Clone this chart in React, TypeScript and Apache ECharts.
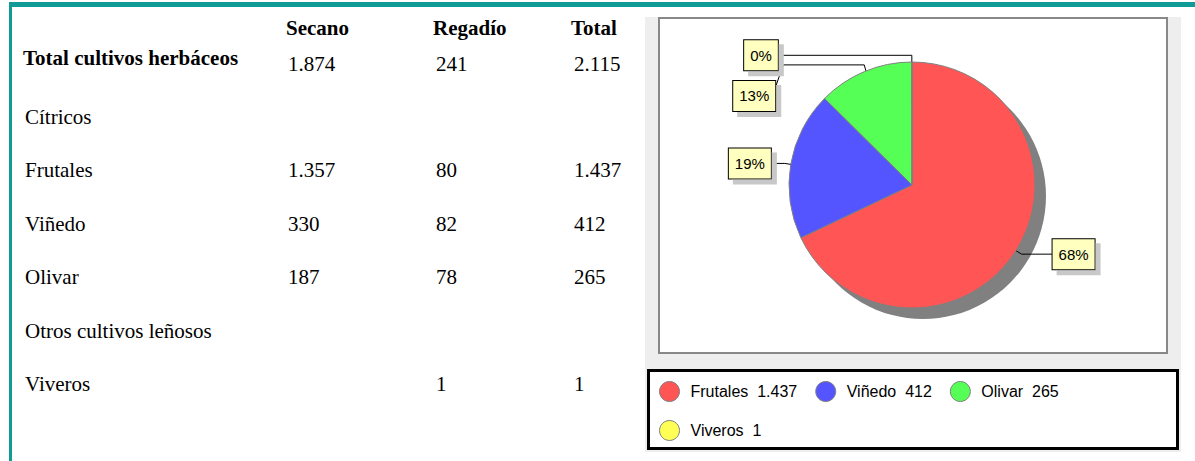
import React, { useEffect, useRef } from 'react';
import * as echarts from 'echarts';

// ---------- data ----------
const columnHeaders = ['Secano', 'Regadío', 'Total'];
const rowLabels = [
  'Total cultivos herbáceos',
  'Cítricos',
  'Frutales',
  'Viñedo',
  'Olivar',
  'Otros cultivos leñosos',
  'Viveros',
];
const secano: (number | null)[] = [1874, null, 1357, 330, 187, null, null];
const regadio: (number | null)[] = [241, null, 80, 82, 78, null, 1];
const totals: (number | null)[] = [2115, null, 1437, 412, 265, null, 1];

const pieCategories = ['Frutales', 'Viñedo', 'Olivar', 'Viveros'];
const pieValues = [1437, 412, 265, 1];
const pieColors = ['#ff5555', '#5555ff', '#55ff55', '#ffff55'];

// ---------- layout / style ----------
const W = 1195;
const H = 461;
const CX = 912;
const CY = 185;
const R = 123;
const TEAL = '#109b97';
const SERIF = '"Liberation Serif", "Times New Roman", serif';
const SANS = '"Liberation Sans", Arial, sans-serif';
const headerX = [286, 433, 571];
const valueX = [288, 436, 574];
const headerBaseline = 35;
const firstLabelBaseline = 65;
const firstValueBaseline = 71;
const rowBaseline0 = 124;
const rowStep = 53.4;

// guide line offsets relative to the anchor point inside each slice
const GUIDES: { pts: number[][]; align: string; bx: number; by: number }[] = [
  { pts: [[16, 10], [47, 10]], align: 'left', bx: 47, by: 10 },
  { pts: [[-18, -3], [-32, -3]], align: 'right', bx: -32, by: -3 },
  { pts: [[-5, -18], [-86, -18], [-94, 5]], align: 'right', bx: -94, by: 13 },
  { pts: [[0, -19], [-134, -19]], align: 'right', bx: -134, by: -19 },
];

const fmt = (n: number | null) =>
  n == null ? '' : String(n).replace(/\B(?=(\d{3})+(?!\d))/g, '.');

const pieTotal = pieValues.reduce((a, b) => a + b, 0);

function buildGraphic() {
  const els: any[] = [];
  // gray chart panel
  els.push({ type: 'rect', shape: { x: 645, y: 17, width: 536, height: 435 }, style: { fill: '#eeeeee' } });
  // white plot box
  els.push({
    type: 'rect',
    shape: { x: 659, y: 18, width: 508, height: 335 },
    style: { fill: '#ffffff', stroke: '#888888', lineWidth: 2 },
  });
  // legend box
  els.push({
    type: 'rect',
    shape: { x: 648.5, y: 370.5, width: 529, height: 78 },
    style: { fill: '#ffffff', stroke: '#000000', lineWidth: 3 },
  });
  // teal frame
  els.push({ type: 'rect', shape: { x: 9, y: 2, width: W - 9, height: 5 }, style: { fill: TEAL } });
  els.push({ type: 'rect', shape: { x: 9, y: 2, width: 3, height: H - 2 }, style: { fill: TEAL } });

  const mid = (baseline: number) => baseline - 7;
  // headers
  columnHeaders.forEach((h, i) => {
    els.push({
      type: 'text',
      x: headerX[i],
      y: mid(headerBaseline),
      style: { text: h, font: `bold 21px ${SERIF}`, fill: '#000', align: 'left', verticalAlign: 'middle' },
    });
  });
  const cols = [secano, regadio, totals];
  rowLabels.forEach((label, r) => {
    const lb = r === 0 ? firstLabelBaseline : rowBaseline0 + (r - 1) * rowStep;
    const vb = r === 0 ? firstValueBaseline : lb;
    els.push({
      type: 'text',
      x: r === 0 ? 23 : 25,
      y: mid(lb),
      style: {
        text: label,
        font: `${r === 0 ? 'bold ' : ''}21px ${SERIF}`,
        fill: '#000',
        align: 'left',
        verticalAlign: 'middle',
      },
    });
    cols.forEach((col, c) => {
      const v = col[r];
      if (v == null) return;
      els.push({
        type: 'text',
        x: valueX[c],
        y: mid(vb),
        style: { text: fmt(v), font: `21px ${SERIF}`, fill: '#000', align: 'left', verticalAlign: 'middle' },
      });
    });
  });
  return els;
}

export default function App() {
  const ref = useRef<HTMLDivElement>(null);
  useEffect(() => {
    const chart = echarts.init(ref.current!, null, { renderer: 'svg', width: W, height: H });
    const option: any = {
      animation: false,
      graphic: { elements: buildGraphic() },
      legend: {
        data: pieCategories,
        left: 659,
        top: 381,
        width: 450,
        padding: 0,
        orient: 'horizontal',
        icon: 'circle',
        itemWidth: 32,
        itemHeight: 20,
        itemGap: 18,
        selectedMode: false,
        itemStyle: { borderColor: '#808080', borderWidth: 1 },
        textStyle: { fontFamily: SANS, fontSize: 16, color: '#000', lineHeight: 19 },
        formatter: (name: string) => `${name}  ${fmt(pieValues[pieCategories.indexOf(name)])}`,
      },
      series: [
        {
          type: 'pie',
          name: 'sombra',
          silent: true,
          z: 1,
          center: [CX + 11, CY + 11],
          radius: R,
          data: [{ value: pieTotal, name: '__shadow__' }],
          itemStyle: { color: '#808080' },
          label: { show: false },
          labelLine: { show: false },
          emphasis: { disabled: true },
        },
        {
          type: 'pie',
          name: 'cultivos',
          z: 2,
          center: [CX, CY],
          radius: R,
          startAngle: 90,
          clockwise: true,
          avoidLabelOverlap: false,
          color: pieColors,
          data: pieCategories.map((name, i) => ({ name, value: pieValues[i] })),
          itemStyle: { borderColor: '#808080', borderWidth: 1 },
          emphasis: { disabled: true },
          label: {
            show: true,
            position: 'outside',
            formatter: (p: any) => `${Math.round((p.value / pieTotal) * 100)}%`,
            fontFamily: SANS,
            fontSize: 15,
            lineHeight: 16,
            color: '#000',
            backgroundColor: '#ffffc0',
            borderColor: '#000',
            borderWidth: 1,
            padding: [7, 6, 7, 6],
            shadowColor: '#c8c8c8',
            shadowOffsetX: 5,
            shadowOffsetY: 5,
            shadowBlur: 0,
          },
          labelLine: { show: true, length: 10, length2: 10, lineStyle: { color: '#000', width: 1 } },
          labelLayout: (params: any) => {
            const i = params.dataIndex;
            let before = 0;
            for (let j = 0; j < i; j++) before += pieValues[j];
            const ang = ((before + pieValues[i] / 2) / pieTotal) * Math.PI * 2;
            const ax = CX + 0.9 * R * Math.sin(ang);
            const ay = CY - 0.9 * R * Math.cos(ang);
            const g = GUIDES[i];
            return {
              x: ax + g.bx,
              y: ay + g.by,
              align: g.align,
              verticalAlign: 'middle',
              labelLinePoints: [[ax, ay], ...g.pts.map((p) => [ax + p[0], ay + p[1]])],
            };
          },
        },
      ],
    };
    chart.setOption(option);
    return () => chart.dispose();
  }, []);
  return <div ref={ref} style={{ position: 'absolute', left: 0, top: 0, width: W, height: H }} />;
}
